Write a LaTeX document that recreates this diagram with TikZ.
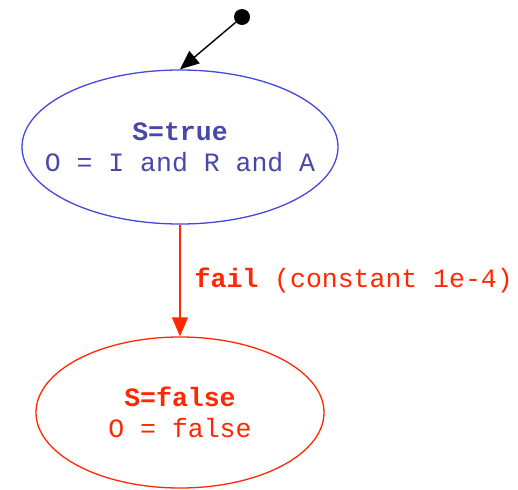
\documentclass[tikz,border=0pt]{standalone}
\usepackage{fontspec}
\setmainfont{Liberation Mono}
\usetikzlibrary{arrows.meta,shapes.geometric}
\definecolor{bline}{RGB}{68,72,220}
\definecolor{btext}{RGB}{72,72,168}
\definecolor{rcol}{RGB}{255,40,0}
\tikzset{
  state/.style={ellipse, draw, line width=1.3pt, inner sep=0pt},
  statetext/.style={align=center, inner sep=0pt, font=\fontsize{26.5}{31}\selectfont},
  edgearrow/.style={line width=1.4pt, -{Triangle[length=19pt,width=16pt]}},
}
\begin{document}
\begin{tikzpicture}[x=1pt,y=-1pt]
\useasboundingbox (0,0) rectangle (518,489);
\node[circle, fill=black, minimum size=16pt, inner sep=0pt] (init) at (242,17) {};
\node[state, draw=bline, minimum width=316pt, minimum height=154pt] (t) at (180,147) {};
\node[statetext, text=btext] (tl) at (t.center) {\textbf{S=true}\\O = I and R and A};
\node[state, draw=rcol, minimum width=288pt, minimum height=151pt] (f) at (180,412.5) {};
\node[statetext, text=rcol] (fl) at (f.center) {\textbf{S=false}\\O = false};
\draw[edgearrow, black] (init) -- (t.north);
\draw[edgearrow, rcol] (t) -- node[right, xshift=14pt, font=\fontsize{26.5}{31}\selectfont, text=rcol, inner sep=0pt] {\textbf{fail} (constant 1e-4)} (f);
\end{tikzpicture}
\end{document}
